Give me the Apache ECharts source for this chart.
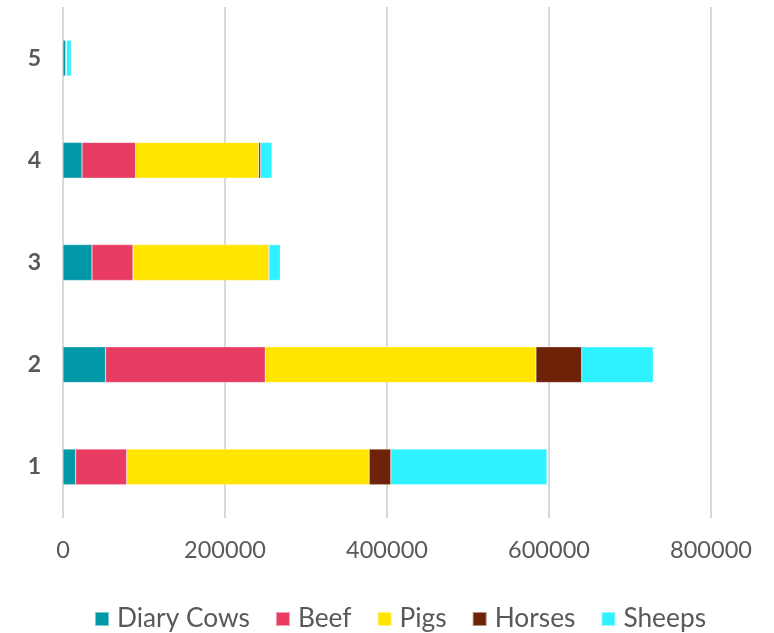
<!DOCTYPE html>
<html>
<head>
<meta charset="utf-8">
<script src="https://cdn.jsdelivr.net/npm/echarts@6/dist/echarts.min.js"></script>
<style>html,body{margin:0;padding:0;background:#fff}#c{width:774px;height:633px}</style>
</head>
<body>
<div id="c"></div>
<script>
var categories = ['1', '2', '3', '4', '5'];
var seriesNames = ['Diary Cows', 'Beef', 'Pigs', 'Horses', 'Sheeps'];
var diaryCows = [15600, 52500, 35800, 23500, 3500];
var beef = [63100, 197300, 50600, 66200, 500];
var pigs = [299300, 334100, 167500, 151900, 300];
var horses = [26700, 56500, 1200, 2400, 100];
var sheeps = [192800, 88300, 13200, 14000, 5800];
var xTicks = [0, 200000, 400000, 600000, 800000];

var colors = ['#0097A7', '#E83C62', '#FFE500', '#6E2308', '#2EF2FF'];
var dataList = [diaryCows, beef, pigs, horses, sheeps];

var chart = echarts.init(document.getElementById('c'));
chart.setOption({
  animation: false,
  textStyle: { fontFamily: 'Lato' },
  color: colors,
  grid: { left: 63, right: 63, top: 7, bottom: 115 },
  legend: {
    top: 601,
    left: 89,
    itemWidth: 14,
    itemHeight: 14,
    itemGap: 25,
    icon: 'rect',
    textStyle: { fontSize: 26.3, color: '#595959', fontFamily: 'Lato', padding: [0, 0, 0, 3] },
    data: seriesNames
  },
  xAxis: {
    type: 'value',
    min: xTicks[0],
    max: xTicks[xTicks.length - 1],
    interval: xTicks[1] - xTicks[0],
    axisLine: { show: false },
    axisTick: { show: false },
    axisLabel: { fontSize: 23.5, color: '#595959', margin: 20, fontFamily: 'Lato', formatter: function (v) { return String(v); } },
    splitLine: { lineStyle: { color: '#d9d9d9', width: 2 } }
  },
  yAxis: {
    type: 'category',
    data: categories,
    axisLine: { show: false },
    axisTick: { show: false },
    axisLabel: { fontSize: 23, fontWeight: 'bold', color: '#595959', margin: 22, fontFamily: 'Lato' }
  },
  series: seriesNames.map(function (n, i) {
    return {
      name: n,
      type: 'bar',
      stack: 'total',
      barWidth: '35%',
      itemStyle: { borderColor: 'rgba(255,255,255,0.5)', borderWidth: 0.5 },
      data: dataList[i]
    };
  })
});
</script>
</body>
</html>
